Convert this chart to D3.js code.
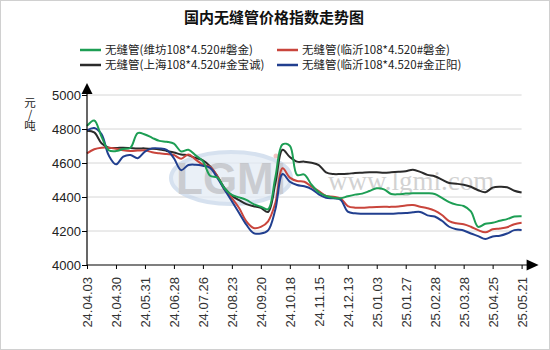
<!DOCTYPE html>
<html>
<head>
<meta charset="utf-8">
<script src="https://cdn.jsdelivr.net/npm/d3@7"></script>
<style>
  body { margin: 0; background: #fff; }
  svg { display: block; }
</style>
</head>
<body>
<svg id="chart" width="550" height="350"></svg>
<script>
// Tick labels along the x axis (one every 4 sample points)
const tickLabels = ["24.04.03","24.04.30","24.05.31","24.06.28","24.07.26","24.08.23","24.09.20","24.10.18",
                    "24.11.15","24.12.13","25.01.03","25.01.27","25.02.28","25.03.28","25.04.25","25.05.21"];
const yTicks = [4000, 4200, 4400, 4600, 4800, 5000];

// 无缝管(维坊108*4.520#磐金)
const weifangPanjin = [4818,4850,4755,4675,4670,4682,4690,4776,4768,4748,4730,4725,4714,4668,4678,4645,
                       4610,4525,4515,4450,4412,4398,4383,4358,4343,4328,4515,4710,4702,4530,4532,4472,
                       4428,4406,4396,4392,4404,4414,4420,4435,4451,4445,4418,4416,4420,4422,4422,4422,
                       4418,4395,4370,4355,4347,4315,4224,4243,4248,4260,4270,4285,4287];
// 无缝管(临沂108*4.520#磐金)
const linyiPanjin = [4657,4681,4690,4690,4684,4675,4671,4673,4675,4663,4657,4653,4647,4625,4650,4620,
                     4590,4577,4522,4443,4394,4335,4257,4218,4224,4257,4365,4569,4514,4494,4490,4461,
                     4435,4406,4402,4392,4347,4337,4337,4339,4341,4342,4342,4344,4350,4353,4343,4334,
                     4320,4294,4258,4245,4240,4225,4205,4192,4210,4215,4222,4240,4248];
// 无缝管(上海108*4.520#金宝诚)
const shanghaiJinbaocheng = [4790,4780,4716,4690,4688,4690,4688,4686,4686,4684,4680,4671,4662,4650,4645,4629,
                             4616,4580,4522,4453,4408,4381,4358,4346,4336,4312,4480,4678,4635,4608,4608,4602,
                             4588,4545,4535,4535,4537,4541,4543,4545,4545,4543,4545,4548,4552,4560,4548,4530,
                             4522,4502,4482,4478,4472,4460,4440,4428,4455,4460,4457,4437,4426];
// 无缝管(临沂108*4.520#金正阳)
const linyiJinzhengyang = [4792,4806,4770,4645,4592,4637,4647,4628,4667,4686,4686,4677,4628,4558,4588,4590,
                           4584,4571,4512,4443,4375,4306,4237,4188,4185,4204,4326,4535,4490,4471,4463,4447,
                           4416,4396,4392,4384,4314,4304,4302,4302,4302,4302,4302,4304,4306,4310,4312,4292,
                           4285,4260,4225,4210,4203,4185,4170,4153,4168,4172,4185,4205,4206];

const seriesNames = ["无缝管(维坊108*4.520#磐金)", "无缝管(临沂108*4.520#磐金)",
                     "无缝管(上海108*4.520#金宝诚)", "无缝管(临沂108*4.520#金正阳)"];
const seriesColors = ["#1d9e54", "#c9453c", "#2b2b2b", "#213f8f"];
const seriesValues = [weifangPanjin, linyiPanjin, shanghaiJinbaocheng, linyiJinzhengyang];

const svg = d3.select("#chart");
const W = 550, H = 350;

// frame
svg.append("rect").attr("x", 0.5).attr("y", 0.5).attr("width", W - 1).attr("height", H - 1)
  .attr("fill", "#fff").attr("stroke", "#d0d0d0");

const n = weifangPanjin.length;
const x = d3.scaleLinear().domain([0, n - 1]).range([87, 521.6]);
const y = d3.scaleLinear().domain([4000, 5000]).range([265, 95]);

// title
svg.append("text").attr("x", 274).attr("y", 23).attr("text-anchor", "middle")
  .style("font-family", "'Noto Sans CJK SC', sans-serif").style("font-weight", "bold")
  .style("font-size", "15px").attr("fill", "#111").text("国内无缝管价格指数走势图");

// legend (two rows, two columns)
const legendPos = [[80, 50], [277, 50], [80, 65], [277, 65]];
seriesNames.forEach((name, i) => {
  const [lx, ly] = legendPos[i];
  const g = svg.append("g").attr("transform", `translate(${lx},${ly})`);
  g.append("line").attr("x1", 0).attr("x2", 21).attr("y1", 0).attr("y2", 0)
    .attr("stroke", seriesColors[i]).attr("stroke-width", 2.5);
  g.append("text").attr("x", 25).attr("y", 4)
    .style("font-family", "'Noto Sans CJK SC', sans-serif").style("font-size", "11.5px")
    .attr("fill", "#222").text(name);
});

// unit label 元/吨, set vertically
svg.append("text").attr("x", 30).attr("y", 97)
  .style("writing-mode", "vertical-rl").style("text-orientation", "upright")
  .style("font-family", "'Noto Sans CJK SC', sans-serif").style("font-size", "11.5px")
  .attr("fill", "#222").text("元/吨");

// horizontal grid
svg.append("g").selectAll("line").data(yTicks.filter(v => v > 4000)).join("line")
  .attr("x1", x(0)).attr("x2", x(n - 1)).attr("y1", d => y(d)).attr("y2", d => y(d))
  .attr("stroke", "#d6d6d6").attr("stroke-width", 1);

// watermark
const wm = svg.append("g").attr("opacity", 0.75);
wm.append("ellipse").attr("cx", 231).attr("cy", 178).attr("rx", 60).attr("ry", 26)
  .attr("fill", "#e3ebf5").attr("stroke", "#c9d8ea").attr("stroke-width", 4);
wm.append("text").attr("x", 231).attr("y", 194).attr("text-anchor", "middle")
  .style("font-family", "'Liberation Sans', Arial, sans-serif").style("font-weight", "bold")
  .style("font-size", "44px").attr("fill", "#b9bcc2").text("LGMI");
wm.append("circle").attr("cx", 276).attr("cy", 156).attr("r", 2.5).attr("fill", "#f0b0b0");
wm.append("text").attr("x", 328).attr("y", 190)
  .style("font-family", "'Liberation Serif', 'Times New Roman', serif")
  .style("font-size", "27px").attr("fill", "#c4c4c4").text("www.lgmi.com");

// series lines
const line = d3.line().x((d, i) => x(i)).y(d => y(d)).curve(d3.curveCatmullRom.alpha(0.5));
const drawOrder = [2, 1, 3, 0];
drawOrder.forEach(i => {
  svg.append("path").datum(seriesValues[i]).attr("d", line)
    .attr("fill", "none").attr("stroke", seriesColors[i]).attr("stroke-width", 2)
    .attr("stroke-linejoin", "round");
});

// y axis
const yAxis = d3.axisLeft(y).tickValues(yTicks).tickFormat(d3.format("d"))
  .tickSize(5).tickPadding(1).tickSizeOuter(0);
const gy = svg.append("g").attr("transform", `translate(${x(0)},0)`).call(yAxis);
gy.select(".domain").remove();
gy.selectAll(".tick line").attr("stroke", "#000");
gy.selectAll(".tick text").style("font-family", "'Liberation Sans', Arial, sans-serif")
  .style("font-size", "13px").attr("fill", "#222");

// x axis
const xAxis = d3.axisBottom(x).tickValues(d3.range(0, n, 4))
  .tickFormat(i => tickLabels[i / 4]).tickSize(4).tickSizeOuter(0);
const gx = svg.append("g").attr("transform", `translate(0,${y(4000)})`).call(xAxis);
gx.select(".domain").remove();
gx.selectAll(".tick line").attr("stroke", "#000");
gx.selectAll(".tick text").attr("transform", "rotate(-90)").attr("x", -12).attr("y", 0)
  .attr("dy", "0.35em").style("text-anchor", "end")
  .style("font-family", "'Liberation Sans', Arial, sans-serif").style("font-size", "13px")
  .attr("fill", "#333");

// axis lines with arrow heads
const x0 = x(0), yBase = y(4000), yTop = y(5000);
svg.append("line").attr("x1", x0).attr("x2", x0).attr("y1", yBase).attr("y2", yTop - 2)
  .attr("stroke", "#000").attr("stroke-width", 1.2);
svg.append("path").attr("d", `M${x0},${yTop - 12} L${x0 - 5.5},${yTop - 1} L${x0 + 5.5},${yTop - 1} Z`)
  .attr("fill", "#000");
const xEnd = x(n - 1);
svg.append("line").attr("x1", x0).attr("x2", xEnd + 6).attr("y1", yBase).attr("y2", yBase)
  .attr("stroke", "#000").attr("stroke-width", 1.2);
svg.append("path").attr("d", `M${xEnd + 17},${yBase} L${xEnd + 5},${yBase - 5.5} L${xEnd + 5},${yBase + 5.5} Z`)
  .attr("fill", "#000");
</script>
</body>
</html>
